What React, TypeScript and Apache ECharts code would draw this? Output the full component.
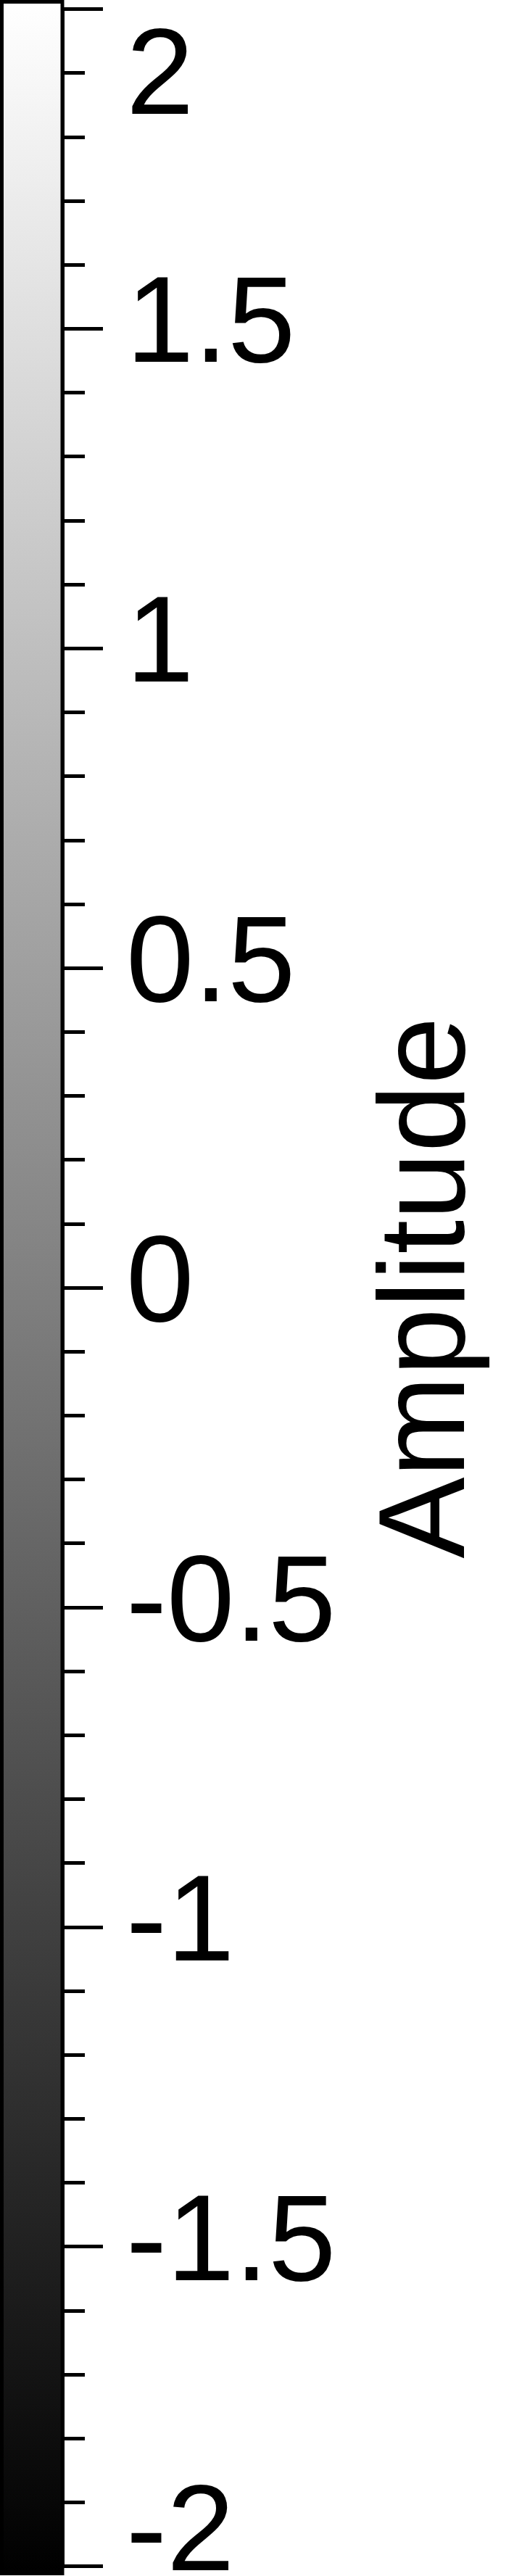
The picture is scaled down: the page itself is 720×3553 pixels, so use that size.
import React, { useEffect, useRef } from 'react'
import * as echarts from 'echarts'

// colour limits of the bar (grey colormap: low = black, high = white)
const colorLimits = [-2.0142, 2.0142]
const colorStops = ['#000000', '#ffffff']

// axis ticks
const tickValues = [-2, -1.5, -1, -0.5, 0, 0.5, 1, 1.5, 2]
const tickLabels = ['-2', '-1.5', '-1', '-0.5', '0', '0.5', '1', '1.5', '2']
const minorPerMajor = 5

const axisTitle = 'Amplitude'

const FONT = '"Liberation Sans", Arial, Helvetica, sans-serif'

const ColorBar: React.FC = () => {
  const chartRef = useRef<HTMLDivElement>(null)

  useEffect(() => {
    if (!chartRef.current) return
    const chart = echarts.init(chartRef.current, undefined, { renderer: 'svg' })

    const lastIdx = tickValues.length - 1
    const labelFor = (v: number) => {
      const i = tickValues.findIndex((t) => Math.abs(t - v) < 1e-9)
      const text = i >= 0 ? tickLabels[i] : String(v)
      const key = i === lastIdx ? 'top' : i === 0 ? 'bot' : 'mid'
      return `{${key}|${text}}`
    }

    const tokenBase = { fontSize: 168, fontFamily: FONT, color: '#000' }

    const option = {
      animation: false,
      backgroundColor: '#ffffff',
      grid: {
        left: 0,
        right: 634,
        top: 12.5,
        bottom: 13.5,
        containLabel: false,
        outerBoundsMode: 'none'
      },
      xAxis: {
        type: 'value',
        min: 0,
        max: 1,
        show: false
      },
      yAxis: {
        type: 'value',
        position: 'right',
        min: tickValues[0],
        max: tickValues[lastIdx],
        interval: 0.5,
        axisLine: {
          show: true,
          onZero: false,
          lineStyle: { color: '#000', width: 5 }
        },
        axisTick: {
          show: true,
          inside: false,
          length: 56,
          lineStyle: { color: '#000', width: 5 }
        },
        minorTick: {
          show: true,
          splitNumber: minorPerMajor,
          length: 31,
          lineStyle: { color: '#000', width: 5 }
        },
        splitLine: { show: false },
        minorSplitLine: { show: false },
        axisLabel: {
          show: true,
          margin: 88,
          showMinLabel: true,
          showMaxLabel: true,
          formatter: labelFor,
          ...tokenBase,
          rich: {
            mid: { ...tokenBase, padding: [0, 0, 24, 0] },
            top: { ...tokenBase, padding: [172, 0, 0, 0] },
            bot: { ...tokenBase, padding: [0, 0, 105, 0] }
          }
        },
        name: axisTitle,
        nameLocation: 'middle',
        nameRotate: 90,
        nameGap: 412,
        nameTextStyle: { ...tokenBase }
      },
      series: [
        {
          type: 'custom',
          clip: false,
          silent: true,
          encode: { x: [0, 2], y: [1, 3] },
          data: [[0, colorLimits[0], 1, colorLimits[1]]],
          renderItem: (_params: any, api: any) => {
            const tl = api.coord([api.value(0), api.value(3)])
            const br = api.coord([api.value(2), api.value(1)])
            const lw = 5
            return {
              type: 'rect',
              shape: {
                x: tl[0] + lw / 2,
                y: tl[1] + lw / 2,
                width: br[0] - tl[0] - lw / 2,
                height: br[1] - tl[1] - lw
              },
              style: {
                fill: new echarts.graphic.LinearGradient(0, 0, 0, 1, [
                  { offset: 0, color: colorStops[1] },
                  { offset: 1, color: colorStops[0] }
                ]),
                stroke: '#000',
                lineWidth: lw
              }
            }
          }
        }
      ]
    }

    chart.setOption(option as any)

    return () => {
      chart.dispose()
    }
  }, [])

  return (
    <div
      ref={chartRef}
      style={{ position: 'absolute', left: 0, top: 0, width: '720px', height: '3553px' }}
    />
  )
}

export default function App() {
  return <ColorBar />
}
